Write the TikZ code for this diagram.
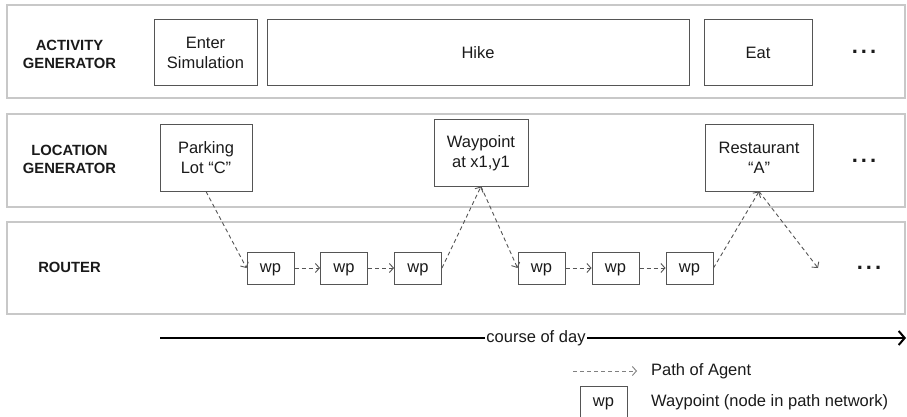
\documentclass[tikz,border=0pt]{standalone}
\usepackage{fontspec}
\setmainfont{Liberation Sans}
\usetikzlibrary{arrows.meta}
\definecolor{panelgray}{HTML}{C8C8C8}
\definecolor{boxgray}{HTML}{555555}
\definecolor{txt}{HTML}{1A1A1A}
\tikzset{
  panel/.style={draw=panelgray, line width=1.2pt},
  box/.style={draw=boxgray, line width=1pt, align=center, text=txt, inner sep=0pt,
    font=\fontsize{16.5}{20}\selectfont},
  wpbox/.style={draw=boxgray, line width=1pt, text=txt, inner sep=0pt,
    font=\fontsize{16.5}{20}\selectfont, text height=9pt, text depth=0pt,
    minimum width=47pt, minimum height=32pt},
  lab/.style={align=center, text=txt, font=\fontsize{14.8}{18}\selectfont\bfseries},
  dotsn/.style={text=txt, font=\fontsize{22}{24}\selectfont\bfseries},
  path/.style={draw=boxgray, line width=0.9pt, dash pattern=on 4pt off 3pt,
    -{Straight Barb[length=4pt,width=9pt,line width=0.9pt]}},
  txtn/.style={text=txt, font=\fontsize{16.5}{20}\selectfont, inner sep=1pt},
}
\newcommand{\mydots}{.\kern3pt.\kern3pt.}
\begin{document}
\begin{tikzpicture}[x=1pt,y=-1pt]
\useasboundingbox (0,0) rectangle (907,417);
% panels
\draw[panel] (7,5) rectangle (905,98);
\draw[panel] (7,114) rectangle (905,207);
\draw[panel] (7,222) rectangle (905,314);
% row labels
\node[lab] (lact) at (69.5,54) {ACTIVITY\\GENERATOR};
\node[lab] (lloc) at (69.5,159) {LOCATION\\GENERATOR};
\node[lab] (lrout) at (69.5,267) {ROUTER};
% activity boxes
\node[box, minimum width=103pt, minimum height=66pt] (enter) at (205.5,53) {Enter\\Simulation};
\node[box, minimum width=422pt, minimum height=66pt] (hike) at (478,53) {Hike};
\node[box, minimum width=108pt, minimum height=66pt] (eat) at (758,53) {Eat};
\node[dotsn] (d1) at (864,52) {\mydots};
% location boxes
\node[box, minimum width=92pt, minimum height=66pt] (parking) at (206,158) {Parking\\Lot “C”};
\node[box, minimum width=94pt, minimum height=66pt] (waypoint) at (481,153) {Waypoint\\at x1,y1};
\node[box, minimum width=108pt, minimum height=66pt] (rest) at (759,158) {Restaurant\\“A”};
\node[dotsn] (d2) at (864,161) {\mydots};
% router
\node[wpbox] (wp1) at (270.5,268) {wp};
\node[wpbox] (wp2) at (344,268) {wp};
\node[wpbox] (wp3) at (418,268) {wp};
\node[wpbox] (wp4) at (541.5,268) {wp};
\node[wpbox] (wp5) at (615.5,268) {wp};
\node[wpbox] (wp6) at (689.5,268) {wp};
\coordinate (endp) at (818,268);
\node[dotsn] (d3) at (869,268) {\mydots};
% agent path
\draw[path] (parking.south) -- (wp1.west);
\draw[path] (wp1) -- (wp2);
\draw[path] (wp2) -- (wp3);
\draw[path] (wp3.east) -- (waypoint.south);
\draw[path] (waypoint.south) -- (wp4.west);
\draw[path] (wp4) -- (wp5);
\draw[path] (wp5) -- (wp6);
\draw[path] (wp6.east) -- (rest.south);
\draw[path] (rest.south) -- (endp);
% course of day
\coordinate (cs) at (160,338);
\coordinate (ce) at (906,338);
\draw[line width=2.4pt, -{Straight Barb[length=6pt,width=14pt,line width=2pt]}] (cs) -- (ce);
\node[txtn, fill=white] (cod) at (536,338) {course of day};
% legend
\coordinate (la) at (573,371);
\coordinate (lb) at (637,371);
\draw[path, draw=gray] (la) -- (lb);
\node[txtn, anchor=west] (lpath) at (650,371) {Path of Agent};
\node[wpbox] (lwp) at (603.5,402) {wp};
\node[txtn, anchor=west] (lwpt) at (650,402) {Waypoint (node in path network)};
\end{tikzpicture}
\end{document}
